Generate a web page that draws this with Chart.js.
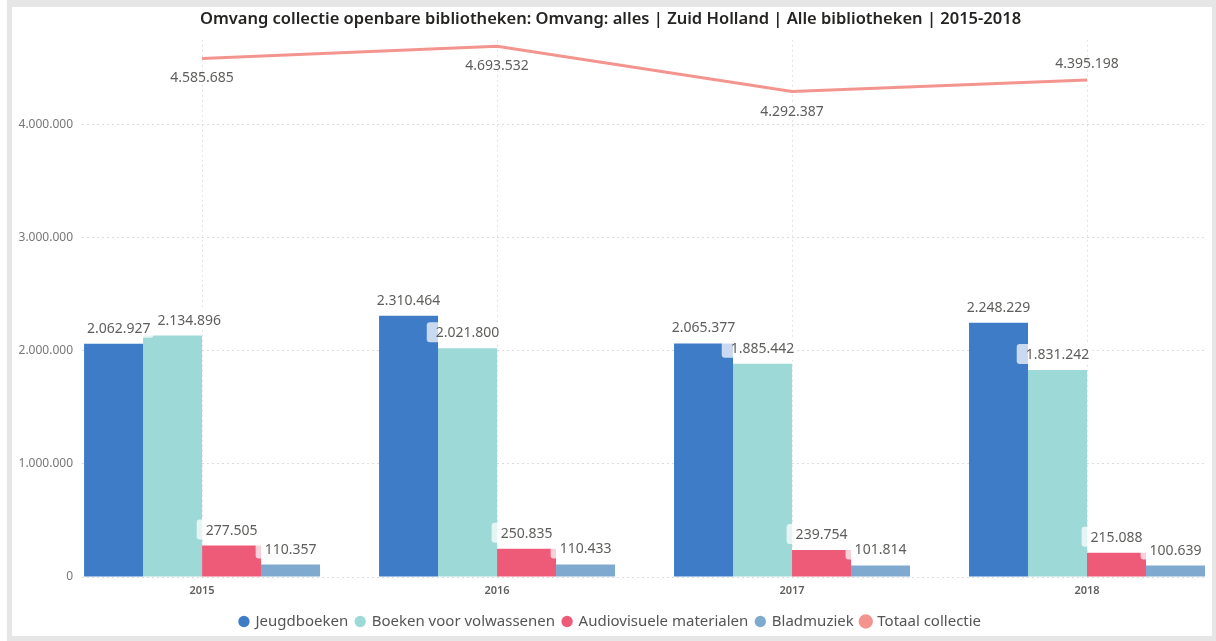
<!DOCTYPE html>
<html>
<head>
<meta charset="utf-8">
<script src="https://cdn.jsdelivr.net/npm/chart.js@4"></script>
<style>
  html, body { margin: 0; padding: 0; background: #ffffff; width: 1216px; height: 641px; overflow: hidden; }
  #frame { position: absolute; left: 7px; top: 0; width: 1209px; height: 641px; background: #e6e6e6; }
  #card { position: absolute; left: 12px; top: 7px; width: 1200px; height: 629px; background: #ffffff; }
  #wrap { position: absolute; left: 0; top: 0; width: 1216px; height: 641px; }
</style>
</head>
<body>
<div id="frame"></div>
<div id="card"></div>
<div id="wrap"><canvas id="c" width="1216" height="641"></canvas></div>
<script>
// ---- data ----
const years = [2015, 2016, 2017, 2018];
const jeugdboeken = [2062927, 2310464, 2065377, 2248229];
const boekenVolwassenen = [2134896, 2021800, 1885442, 1831242];
const audiovisueel = [277505, 250835, 239754, 215088];
const bladmuziek = [110357, 110433, 101814, 100639];
const totaalCollectie = [4585685, 4693532, 4292387, 4395198];
const yTicks = [0, 1000000, 2000000, 3000000, 4000000];
const titleText = 'Omvang collectie openbare bibliotheken: Omvang: alles | Zuid Holland | Alle bibliotheken | 2015-2018';

const fmt = n => String(n).replace(/\B(?=(\d{3})+(?!\d))/g, '.');
const pts = arr => arr.map((v, i) => ({ x: years[i], y: v }));

const FONT = 'Noto Sans';
const LABEL_COLOR = '#5f5e5c';

const labelPlugin = {
  id: 'valueLabels',
  afterDatasetsDraw(chart) {
    const ctx = chart.ctx;
    const area = chart.chartArea;
    ctx.save();
    ctx.font = '14px "' + FONT + '"';
    ctx.textBaseline = 'middle';
    ctx.textAlign = 'left';
    const labels = [];
    const nBars = chart.data.datasets.filter(d => d.type !== 'line').length;
    for (let g = 0; g < years.length; g++) {
      let prev = null;
      for (let d = 0; d < nBars; d++) {
        const meta = chart.getDatasetMeta(d);
        const el = meta.data[g];
        const txt = fmt(chart.data.datasets[d].data[g].y);
        const w = ctx.measureText(txt).width;
        let left = el.x - w / 2;
        if (left < area.left + 5) left = area.left + 5;
        const cy = el.y - 16;
        if (prev && Math.abs(prev.cy - cy) < 15 && left < prev.right + 7) {
          left = prev.right + 7;
        }
        const lab = { txt, left, right: left + w, cy, w, box: true };
        labels.push(lab);
        prev = lab;
      }
    }
    chart.data.datasets.forEach((ds, di) => {
      if (ds.type !== 'line') return;
      const meta = chart.getDatasetMeta(di);
      meta.data.forEach((p, i) => {
        const txt = fmt(ds.data[i].y);
        const w = ctx.measureText(txt).width;
        const last = i === meta.data.length - 1;
        const cy = last ? p.y - 17 : p.y + 19;
        labels.push({ txt, left: p.x - w / 2, right: p.x + w / 2, cy, w, box: false });
      });
    });
    ctx.fillStyle = 'rgba(255,255,255,0.72)';
    labels.forEach(l => {
      if (!l.box) return;
      ctx.beginPath();
      ctx.roundRect(l.left - 9, l.cy - 10, l.w + 12, 20, 3);
      ctx.fill();
    });
    ctx.fillStyle = LABEL_COLOR;
    labels.forEach(l => ctx.fillText(l.txt, l.left, l.cy + 1));
    ctx.restore();
  }
};

const barCommon = { type: 'bar', categoryPercentage: 0.8, barPercentage: 1.0, borderWidth: 0, order: 2 };

new Chart(document.getElementById('c'), {
  data: {
    datasets: [
      { ...barCommon, label: 'Jeugdboeken', data: pts(jeugdboeken), backgroundColor: '#3f7cc8' },
      { ...barCommon, label: 'Boeken voor volwassenen', data: pts(boekenVolwassenen), backgroundColor: '#9dd9d7' },
      { ...barCommon, label: 'Audiovisuele materialen', data: pts(audiovisueel), backgroundColor: '#ee5b79' },
      { ...barCommon, label: 'Bladmuziek', data: pts(bladmuziek), backgroundColor: '#80a9cf' },
      { type: 'line', label: 'Totaal collectie', data: pts(totaalCollectie), borderColor: '#f4948f', backgroundColor: '#f4948f',
        borderWidth: 3, pointRadius: 0, pointHoverRadius: 0, tension: 0, order: 1 }
    ]
  },
  options: {
    responsive: false,
    animation: false,
    events: [],
    layout: { padding: { left: 16, right: 11, top: 0, bottom: 2 } },
    scales: {
      x: {
        type: 'linear',
        offset: false,
        min: 2015 - 0.407,
        max: 2018 + 0.4,
        afterBuildTicks: s => { s.ticks = years.map(v => ({ value: v })); },
        afterFit: s => { s.height = 29; },
        ticks: {
          callback: v => String(v),
          font: { family: FONT, size: 11, weight: '600' },
          color: '#605e5c',
          padding: 7,
          maxRotation: 0
        },
        grid: { display: true, offset: false, color: '#e4e4e4', lineWidth: 1, drawTicks: false },
        border: { display: false, dash: [2, 3] }
      },
      y: {
        type: 'linear',
        min: 0,
        max: 4750000,
        afterBuildTicks: s => { s.ticks = yTicks.map(v => ({ value: v })); },
        afterFit: s => { s.width = 66; },
        ticks: {
          callback: v => fmt(v),
          font: { family: FONT, size: 12 },
          color: '#777777',
          padding: 9
        },
        grid: { color: '#dcdcdc', lineWidth: 1, drawTicks: false },
        border: { display: false, dash: [2, 3] }
      }
    },
    plugins: {
      title: {
        display: true,
        text: titleText,
        color: '#252423',
        font: { family: FONT, size: 16.5, weight: '600' },
        padding: { top: 9, bottom: 11 }
      },
      legend: {
        display: true,
        position: 'bottom',
        labels: {
          usePointStyle: true,
          pointStyle: 'circle',
          boxWidth: 8,
          boxHeight: 8,
          padding: 8,
          color: '#555555',
          font: { family: FONT, size: 15 },
          sort: (a, b) => a.datasetIndex - b.datasetIndex
        }
      },
      tooltip: { enabled: false }
    }
  },
  plugins: [labelPlugin]
});
</script>
</body>
</html>
